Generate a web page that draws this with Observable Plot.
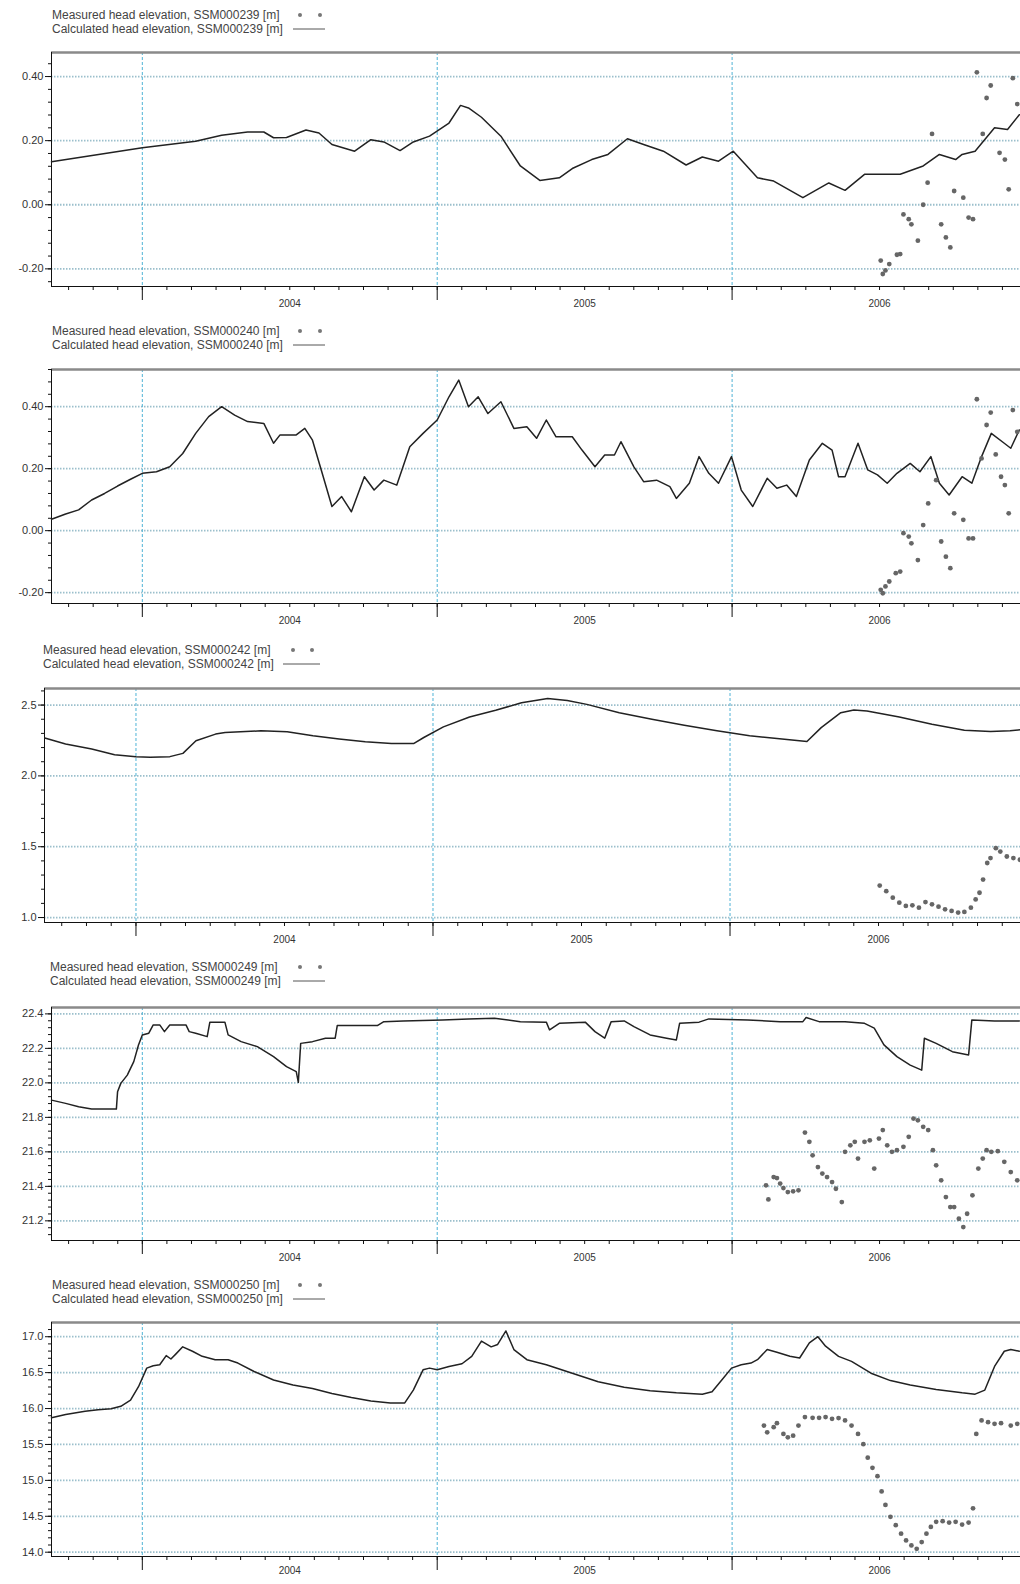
<!DOCTYPE html>
<html><head><meta charset="utf-8">
<script src="https://cdn.jsdelivr.net/npm/d3@7"></script>
<script src="https://cdn.jsdelivr.net/npm/@observablehq/plot@0.6"></script>
<style>
body{margin:0;background:#fff;}
#root{position:relative;width:1020px;height:1584px;overflow:hidden;font-family:"Liberation Sans",Arial,sans-serif;}
.leg{position:absolute;font-size:12px;color:#444;white-space:nowrap;line-height:14px;height:14px;}
.sym{position:absolute;}
</style></head><body><div id="root"></div>
<script>
// ---- shared axis data ----
const xDomain = [2003.692, 2006.978];
const yearTicks = [2004, 2005, 2006];
const yearMids = [2004.5, 2005.5, 2006.5];
const yearLabels = ["2004", "2005", "2006"];
const stations = ["SSM000239", "SSM000240", "SSM000242", "SSM000249", "SSM000250"];

// ---- y axes ----
const yTicks239 = [-0.2, 0, 0.2, 0.4];
const yTicks240 = [-0.2, 0, 0.2, 0.4];
const yTicks242 = [1.0, 1.5, 2.0, 2.5];
const yTicks249 = [21.2, 21.4, 21.6, 21.8, 22.0, 22.2, 22.4];
const yTicks250 = [14.0, 14.5, 15.0, 15.5, 16.0, 16.5, 17.0];
const yDomain239 = [-0.255, 0.475];
const yDomain240 = [-0.235, 0.52];
const yDomain242 = [0.965, 2.617];
const yDomain249 = [21.086, 22.437];
const yDomain250 = [13.94, 17.198];

// ---- series: [decimal year, head elevation m] ----
const calc239 = [[2003.692,0.134],[2004.000,0.178],[2004.181,0.198],[2004.269,0.217],[2004.357,0.227],[2004.412,0.227],[2004.445,0.209],[2004.489,0.21],[2004.555,0.233],[2004.599,0.224],[2004.643,0.188],[2004.720,0.167],[2004.775,0.203],[2004.819,0.196],[2004.874,0.169],[2004.919,0.196],[2004.974,0.214],[2005.040,0.255],[2005.079,0.31],[2005.106,0.302],[2005.150,0.273],[2005.216,0.214],[2005.282,0.121],[2005.348,0.076],[2005.414,0.084],[2005.458,0.113],[2005.524,0.141],[2005.579,0.157],[2005.645,0.206],[2005.700,0.188],[2005.767,0.167],[2005.844,0.124],[2005.899,0.149],[2005.954,0.136],[2006.004,0.167],[2006.086,0.084],[2006.141,0.074],[2006.240,0.022],[2006.328,0.068],[2006.383,0.045],[2006.449,0.095],[2006.570,0.095],[2006.648,0.121],[2006.703,0.157],[2006.758,0.141],[2006.780,0.157],[2006.824,0.167],[2006.890,0.24],[2006.934,0.235],[2006.974,0.281]];
const meas239 = [[2006.504,-0.174],[2006.511,-0.216],[2006.520,-0.205],[2006.533,-0.185],[2006.559,-0.156],[2006.570,-0.154],[2006.581,-0.03],[2006.599,-0.045],[2006.608,-0.061],[2006.630,-0.112],[2006.648,0.0],[2006.663,0.069],[2006.678,0.221],[2006.709,-0.061],[2006.725,-0.102],[2006.740,-0.133],[2006.753,0.043],[2006.784,0.022],[2006.802,-0.04],[2006.817,-0.045],[2006.830,0.413],[2006.850,0.221],[2006.863,0.333],[2006.877,0.372],[2006.907,0.162],[2006.925,0.141],[2006.938,0.048],[2006.952,0.395],[2006.967,0.314]];

const calc240 = [[2003.692,0.037],[2003.740,0.054],[2003.784,0.067],[2003.828,0.099],[2003.872,0.12],[2003.916,0.144],[2003.960,0.166],[2004.000,0.185],[2004.048,0.19],[2004.093,0.206],[2004.137,0.249],[2004.181,0.314],[2004.225,0.368],[2004.269,0.40],[2004.313,0.373],[2004.357,0.352],[2004.412,0.346],[2004.445,0.282],[2004.467,0.309],[2004.522,0.309],[2004.551,0.33],[2004.577,0.292],[2004.610,0.185],[2004.643,0.078],[2004.676,0.11],[2004.709,0.061],[2004.753,0.174],[2004.786,0.131],[2004.819,0.163],[2004.863,0.147],[2004.907,0.271],[2004.952,0.314],[2005.000,0.357],[2005.040,0.432],[2005.073,0.486],[2005.106,0.40],[2005.139,0.432],[2005.172,0.378],[2005.216,0.416],[2005.260,0.33],[2005.304,0.335],[2005.337,0.298],[2005.370,0.357],[2005.403,0.303],[2005.458,0.303],[2005.491,0.26],[2005.535,0.206],[2005.568,0.244],[2005.601,0.244],[2005.623,0.287],[2005.667,0.206],[2005.700,0.158],[2005.744,0.163],[2005.789,0.142],[2005.811,0.104],[2005.855,0.153],[2005.888,0.239],[2005.921,0.185],[2005.954,0.153],[2005.998,0.239],[2006.031,0.131],[2006.070,0.078],[2006.119,0.169],[2006.152,0.137],[2006.185,0.147],[2006.218,0.11],[2006.262,0.228],[2006.306,0.282],[2006.339,0.26],[2006.361,0.174],[2006.383,0.174],[2006.427,0.282],[2006.460,0.196],[2006.493,0.18],[2006.526,0.153],[2006.559,0.185],[2006.604,0.217],[2006.637,0.19],[2006.674,0.239],[2006.703,0.153],[2006.736,0.115],[2006.780,0.174],[2006.813,0.153],[2006.846,0.239],[2006.879,0.314],[2006.923,0.282],[2006.945,0.266],[2006.974,0.325]];
const meas240 = [[2006.504,-0.191],[2006.511,-0.202],[2006.520,-0.18],[2006.533,-0.164],[2006.555,-0.137],[2006.570,-0.132],[2006.581,-0.008],[2006.599,-0.019],[2006.608,-0.041],[2006.630,-0.095],[2006.648,0.018],[2006.665,0.088],[2006.692,0.163],[2006.709,-0.035],[2006.725,-0.084],[2006.740,-0.121],[2006.753,0.056],[2006.784,0.035],[2006.802,-0.025],[2006.817,-0.025],[2006.830,0.424],[2006.846,0.233],[2006.863,0.341],[2006.877,0.381],[2006.894,0.246],[2006.912,0.174],[2006.925,0.147],[2006.938,0.056],[2006.952,0.389],[2006.967,0.319]];

const calc242 = [[2003.693,2.267],[2003.763,2.225],[2003.851,2.19],[2003.928,2.15],[2004.000,2.136],[2004.048,2.131],[2004.114,2.136],[2004.158,2.159],[2004.202,2.248],[2004.268,2.295],[2004.300,2.306],[2004.421,2.318],[2004.509,2.311],[2004.596,2.283],[2004.684,2.26],[2004.772,2.241],[2004.860,2.229],[2004.936,2.229],[2004.969,2.271],[2005.035,2.346],[2005.123,2.416],[2005.211,2.463],[2005.298,2.516],[2005.386,2.547],[2005.452,2.533],[2005.518,2.505],[2005.627,2.446],[2005.737,2.4],[2005.846,2.358],[2005.956,2.318],[2006.066,2.283],[2006.175,2.26],[2006.259,2.243],[2006.307,2.341],[2006.373,2.446],[2006.417,2.465],[2006.461,2.458],[2006.570,2.416],[2006.680,2.365],[2006.789,2.323],[2006.877,2.313],[2006.943,2.318],[2006.982,2.327]];
const meas242 = [[2006.504,1.226],[2006.526,1.186],[2006.548,1.14],[2006.570,1.105],[2006.592,1.082],[2006.614,1.086],[2006.636,1.07],[2006.658,1.109],[2006.680,1.093],[2006.702,1.077],[2006.724,1.058],[2006.746,1.047],[2006.768,1.035],[2006.789,1.04],[2006.811,1.07],[2006.827,1.128],[2006.840,1.175],[2006.852,1.268],[2006.866,1.385],[2006.877,1.42],[2006.895,1.49],[2006.910,1.466],[2006.932,1.431],[2006.954,1.42],[2006.976,1.408]];

const calc249 = [[2003.692,21.9],[2003.740,21.881],[2003.784,21.861],[2003.828,21.848],[2003.912,21.848],[2003.916,21.948],[2003.927,21.997],[2003.949,22.045],[2003.971,22.123],[2003.987,22.22],[2004.000,22.278],[2004.022,22.288],[2004.037,22.336],[2004.059,22.336],[2004.075,22.297],[2004.093,22.336],[2004.148,22.336],[2004.159,22.297],[2004.181,22.288],[2004.220,22.268],[2004.229,22.352],[2004.280,22.352],[2004.291,22.278],[2004.335,22.239],[2004.390,22.21],[2004.445,22.152],[2004.489,22.094],[2004.522,22.065],[2004.529,22.003],[2004.537,22.229],[2004.577,22.239],[2004.621,22.259],[2004.654,22.259],[2004.661,22.332],[2004.797,22.332],[2004.819,22.355],[2004.885,22.359],[2005.018,22.365],[2005.106,22.371],[2005.194,22.375],[2005.282,22.355],[2005.370,22.352],[2005.381,22.307],[2005.414,22.345],[2005.502,22.352],[2005.535,22.297],[2005.568,22.259],[2005.590,22.355],[2005.634,22.359],[2005.667,22.326],[2005.722,22.278],[2005.778,22.259],[2005.811,22.249],[2005.822,22.345],[2005.888,22.352],[2005.921,22.371],[2006.053,22.365],[2006.163,22.355],[2006.240,22.355],[2006.251,22.379],[2006.295,22.355],[2006.383,22.355],[2006.449,22.345],[2006.482,22.317],[2006.515,22.22],[2006.559,22.152],[2006.604,22.103],[2006.643,22.074],[2006.652,22.259],[2006.692,22.229],[2006.747,22.181],[2006.802,22.162],[2006.813,22.365],[2006.890,22.359],[2006.974,22.359]];
const meas249 = [[2006.115,21.406],[2006.123,21.324],[2006.141,21.454],[2006.152,21.448],[2006.163,21.416],[2006.174,21.39],[2006.189,21.367],[2006.207,21.371],[2006.225,21.377],[2006.247,21.712],[2006.262,21.658],[2006.273,21.58],[2006.291,21.512],[2006.306,21.474],[2006.322,21.454],[2006.339,21.425],[2006.352,21.386],[2006.372,21.309],[2006.383,21.6],[2006.401,21.638],[2006.416,21.658],[2006.427,21.561],[2006.449,21.658],[2006.467,21.667],[2006.482,21.503],[2006.498,21.677],[2006.511,21.726],[2006.526,21.638],[2006.542,21.6],[2006.559,21.61],[2006.581,21.629],[2006.599,21.687],[2006.615,21.793],[2006.630,21.783],[2006.648,21.745],[2006.665,21.726],[2006.681,21.61],[2006.692,21.522],[2006.709,21.435],[2006.725,21.338],[2006.740,21.28],[2006.753,21.28],[2006.769,21.212],[2006.784,21.164],[2006.797,21.241],[2006.815,21.348],[2006.835,21.503],[2006.850,21.561],[2006.863,21.61],[2006.879,21.6],[2006.901,21.604],[2006.923,21.542],[2006.945,21.483],[2006.967,21.435]];

const calc250 = [[2003.692,15.871],[2003.740,15.918],[2003.806,15.961],[2003.850,15.984],[2003.894,15.998],[2003.927,16.031],[2003.960,16.116],[2003.987,16.304],[2004.015,16.563],[2004.037,16.596],[2004.059,16.61],[2004.081,16.737],[2004.097,16.69],[2004.115,16.765],[2004.137,16.859],[2004.170,16.798],[2004.203,16.727],[2004.247,16.68],[2004.291,16.68],[2004.324,16.633],[2004.379,16.516],[2004.445,16.398],[2004.511,16.327],[2004.577,16.28],[2004.643,16.21],[2004.709,16.153],[2004.775,16.106],[2004.841,16.078],[2004.890,16.078],[2004.919,16.257],[2004.952,16.539],[2004.974,16.563],[2005.000,16.539],[2005.040,16.586],[2005.084,16.624],[2005.117,16.727],[2005.150,16.939],[2005.183,16.859],[2005.205,16.892],[2005.233,17.08],[2005.260,16.821],[2005.304,16.68],[2005.370,16.61],[2005.458,16.492],[2005.546,16.374],[2005.634,16.295],[2005.722,16.248],[2005.811,16.219],[2005.899,16.2],[2005.932,16.233],[2005.965,16.398],[2005.998,16.563],[2006.031,16.61],[2006.064,16.633],[2006.086,16.68],[2006.119,16.821],[2006.152,16.784],[2006.196,16.727],[2006.229,16.704],[2006.262,16.915],[2006.291,17.0],[2006.317,16.868],[2006.361,16.727],[2006.405,16.657],[2006.471,16.492],[2006.537,16.389],[2006.604,16.327],[2006.692,16.266],[2006.780,16.219],[2006.824,16.2],[2006.857,16.257],[2006.890,16.586],[2006.923,16.798],[2006.945,16.821],[2006.974,16.798]];
const meas250 = [[2006.108,15.763],[2006.119,15.669],[2006.141,15.74],[2006.152,15.796],[2006.174,15.646],[2006.189,15.599],[2006.207,15.622],[2006.225,15.763],[2006.247,15.881],[2006.273,15.871],[2006.295,15.871],[2006.317,15.881],[2006.339,15.857],[2006.361,15.867],[2006.383,15.834],[2006.405,15.763],[2006.427,15.646],[2006.445,15.504],[2006.460,15.316],[2006.476,15.175],[2006.493,15.058],[2006.507,14.846],[2006.520,14.658],[2006.537,14.493],[2006.555,14.376],[2006.573,14.258],[2006.590,14.164],[2006.608,14.094],[2006.626,14.047],[2006.643,14.141],[2006.659,14.258],[2006.674,14.352],[2006.692,14.423],[2006.714,14.432],[2006.736,14.413],[2006.758,14.423],[2006.780,14.385],[2006.802,14.413],[2006.817,14.611],[2006.828,15.646],[2006.846,15.834],[2006.868,15.81],[2006.890,15.787],[2006.912,15.796],[2006.945,15.763],[2006.967,15.787]];

// ---- assemble panels ----
const panels = [
  {calc: calc239, meas: meas239, ticks: yTicks239, domain: yDomain239, minorStep: 0.04, digits: 2},
  {calc: calc240, meas: meas240, ticks: yTicks240, domain: yDomain240, minorStep: 0.04, digits: 2},
  {calc: calc242, meas: meas242, ticks: yTicks242, domain: yDomain242, minorStep: 0.1, digits: 1},
  {calc: calc249, meas: meas249, ticks: yTicks249, domain: yDomain249, minorStep: 0.04, digits: 1},
  {calc: calc250, meas: meas250, ticks: yTicks250, domain: yDomain250, minorStep: 0.1, digits: 1}
];
// layout (pixels)
const layout = [
  {frameTop: 52, frameBottom: 286, ml: 51, leg: [15, 29], legLeft: 52, symX: [300, 320], lineX: [293, 325], pad: 13},
  {frameTop: 369, frameBottom: 603, ml: 51, leg: [331, 345], legLeft: 52, symX: [300, 320], lineX: [293, 325], pad: 13},
  {frameTop: 688, frameBottom: 922, ml: 44, leg: [650, 664], legLeft: 43, symX: [293, 312], lineX: [283, 320], pad: 13},
  {frameTop: 1007, frameBottom: 1240, ml: 51, leg: [967, 981], legLeft: 50, symX: [300, 320], lineX: [293, 325], pad: 13},
  {frameTop: 1322, frameBottom: 1556, ml: 51, leg: [1285, 1299], legLeft: 52, symX: [300, 320], lineX: [293, 325], pad: 10}
];

const months = d3.range(1, 48).map(i => 2003 + i / 12).filter(v => v > xDomain[0] && v < xDomain[1]);
const root = document.getElementById("root");

function minorTicks(domain, step) {
  const out = [];
  const start = Math.ceil(domain[0] / step - 1e-9);
  const end = Math.floor(domain[1] / step + 1e-9);
  for (let k = start; k <= end; k++) out.push(+(k * step).toFixed(4));
  return out;
}

panels.forEach((pn, i) => {
  const L = layout[i];
  const mt = 6, mb = (i === 4 ? 28 : 32);
  const height = L.frameBottom - L.frameTop + mt + mb;
  const fmt = d => d.toFixed(pn.digits);
  const chart = Plot.plot({
    width: 1020, height, marginTop: mt, marginBottom: mb, marginLeft: L.ml, marginRight: 0,
    style: {fontFamily: "Liberation Sans, Arial, sans-serif", fontSize: "10px", color: "#333", background: "transparent", overflow: "visible"},
    x: {domain: xDomain},
    y: {domain: pn.domain},
    marks: [
      Plot.gridY(pn.ticks, {stroke: "#9bbfcc", strokeWidth: 1.8, strokeOpacity: 1, strokeDasharray: "1.5,1.5"}),
      Plot.gridX(yearTicks, {stroke: "#4fb3d6", strokeWidth: 1, strokeOpacity: 1, strokeDasharray: "3,2"}),
      Plot.ruleY([pn.domain[1]], {stroke: "#8a8a8a", strokeWidth: 2.5}),
      Plot.ruleX([xDomain[0]], {stroke: "#111", strokeWidth: 1}),
      Plot.ruleY([pn.domain[0]], {stroke: "#111", strokeWidth: 1}),
      Plot.line(pn.calc, {x: d => d[0], y: d => d[1], stroke: "#222", strokeWidth: 1.5}),
      Plot.dot(pn.meas, {x: d => d[0], y: d => d[1], r: 2.4, fill: "#666", stroke: "none"}),
      Plot.axisY(pn.ticks, {tickSize: 6, tickPadding: 2, tickFormat: fmt, fontSize: 11, stroke: "#111"}),
      Plot.axisY(minorTicks(pn.domain, pn.minorStep), {tickSize: 3, tickFormat: () => "", stroke: "#111"}),
      Plot.axisX(yearTicks, {tickSize: 14, tickFormat: () => "", stroke: "#111"}),
      Plot.axisX(months, {tickSize: 4, tickFormat: () => "", stroke: "#111"}),
      Plot.axisX(yearMids, {tickSize: 0, tickPadding: L.pad, tickFormat: d => yearLabels[yearMids.indexOf(d)]})
    ]
  });
  chart.style.position = "absolute";
  chart.style.left = "0px";
  chart.style.top = (L.frameTop - mt) + "px";
  root.appendChild(chart);

  // legend
  const rows = [
    {text: `Measured head elevation, ${stations[i]} [m]`, kind: "dot", cy: L.leg[0]},
    {text: `Calculated head elevation, ${stations[i]} [m]`, kind: "line", cy: L.leg[1]}
  ];
  rows.forEach(r => {
    const div = document.createElement("div");
    div.className = "leg";
    div.style.left = L.legLeft + "px";
    div.style.top = (r.cy - 7) + "px";
    div.textContent = r.text;
    root.appendChild(div);
    const ns = "http://www.w3.org/2000/svg";
    const s = document.createElementNS(ns, "svg");
    s.setAttribute("class", "sym");
    s.setAttribute("width", 60); s.setAttribute("height", 10);
    s.style.left = (L.lineX[0] - 5) + "px";
    s.style.top = (r.cy - 5) + "px";
    if (r.kind === "dot") {
      L.symX.forEach(x => {
        const c = document.createElementNS(ns, "circle");
        c.setAttribute("cx", x - L.lineX[0] + 5); c.setAttribute("cy", 5); c.setAttribute("r", 2);
        c.setAttribute("fill", "#777");
        s.appendChild(c);
      });
    } else {
      const l = document.createElementNS(ns, "line");
      l.setAttribute("x1", 5); l.setAttribute("x2", L.lineX[1] - L.lineX[0] + 5);
      l.setAttribute("y1", 5); l.setAttribute("y2", 5);
      l.setAttribute("stroke", "#555"); l.setAttribute("stroke-width", 1);
      s.appendChild(l);
    }
    root.appendChild(s);
  });
});
</script></body></html>
